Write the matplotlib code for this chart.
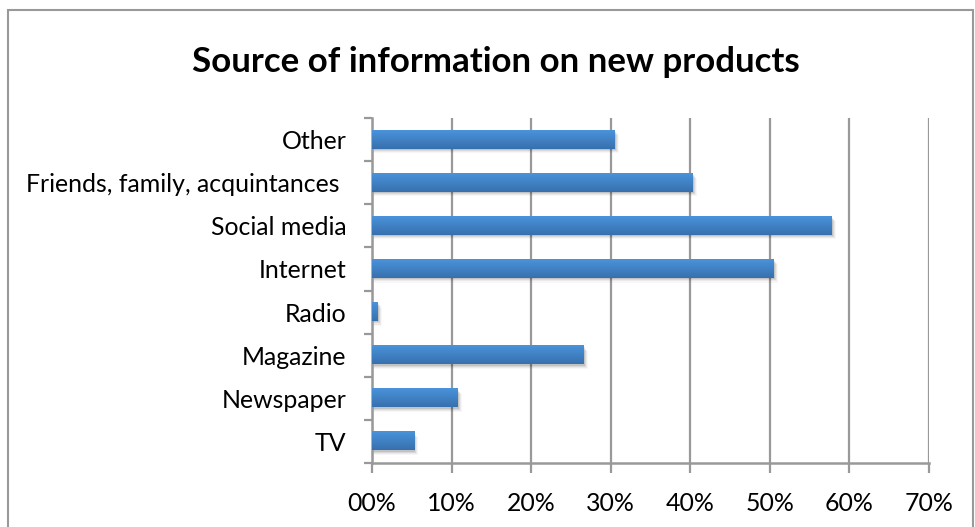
import numpy as np
import matplotlib
matplotlib.use("Agg")
import matplotlib.pyplot as plt
from matplotlib.patches import Rectangle
from matplotlib.ticker import FixedLocator, FuncFormatter

# =========================
# Data
# =========================
categories = ["TV", "Newspaper", "Magazine", "Radio", "Internet",
              "Social media", "Friends, family, acquintances ", "Other"]
shares = [5.3, 10.8, 26.6, 0.75, 50.5, 57.8, 40.3, 30.5]
x_ticks = [0, 10, 20, 30, 40, 50, 60, 70]
x_tick_labels = ["00%", "10%", "20%", "30%", "40%", "50%", "60%", "70%"]

plt.rcParams["font.family"] = ["Lato", "DejaVu Sans"]

fig = plt.figure(figsize=(9.75, 5.27), dpi=100)
ax = fig.add_axes([372 / 975, 1 - 463 / 527, 557 / 975, 345 / 527])

grey = "#999999"
bar_h = 0.42

# vertical gradient for the bars (light on top, darker below)
grad = np.linspace(0, 1, 64).reshape(-1, 1)
top_col = np.array([0x4a, 0x93, 0xdb]) / 255
bot_col = np.array([0x37, 0x70, 0xae]) / 255
img = top_col[None, None, :] * (1 - grad[:, :, None]) + bot_col[None, None, :] * grad[:, :, None]

for i, v in enumerate(shares):
    y0 = i - bar_h / 2
    # soft drop shadow
    for k, a in enumerate([0.10, 0.07, 0.05, 0.03]):
        off = 0.03 + k * 0.025
        ax.add_patch(Rectangle((0, y0 - off), v + 0.15 + k * 0.12, bar_h,
                               facecolor="black", alpha=a, lw=0, zorder=2))
    ax.imshow(img, extent=(0, v, y0, y0 + bar_h), aspect="auto",
              origin="upper", zorder=3)

ax.set_xlim(0, 70)
ax.set_ylim(-0.5, len(categories) - 0.5)

ax.xaxis.set_major_locator(FixedLocator(x_ticks))
ax.xaxis.set_major_formatter(FuncFormatter(lambda v, p: x_tick_labels[x_ticks.index(int(round(v)))]))
ax.grid(axis="x", color=grey, lw=1.6, zorder=1)
ax.set_axisbelow(True)

ax.set_yticks(np.arange(len(categories)))
ax.set_yticklabels(categories)
ax.set_yticks(np.arange(-0.5, len(categories)), minor=True)
ax.tick_params(axis="y", which="major", length=0, pad=18.5, labelsize=17.9)
ax.tick_params(axis="y", which="minor", length=6, width=1.6, color=grey)
ax.tick_params(axis="x", length=7, width=1.6, color=grey, pad=14, labelsize=17.9)

for s in ["top", "right"]:
    ax.spines[s].set_visible(False)
for s in ["left", "bottom"]:
    ax.spines[s].set_color(grey)
    ax.spines[s].set_linewidth(1.8)

fig.text(496 / 975, 1 - 62 / 527, "Source of information on new products",
         ha="center", va="center", fontsize=25.1, fontweight="bold")

# chart area border
fig.add_artist(Rectangle((8 / 975, -0.05), 965 / 975, 1.05 - 10 / 527,
                         transform=fig.transFigure, fill=False,
                         edgecolor=grey, lw=1.5))

fig.savefig("out.png", dpi=100)
